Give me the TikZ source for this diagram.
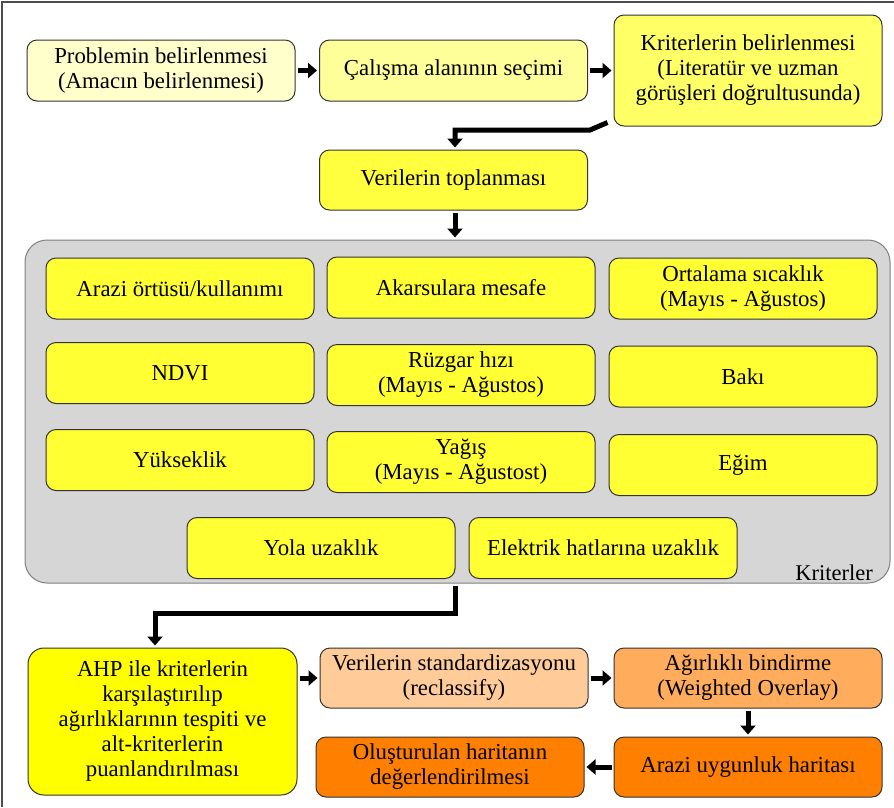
\documentclass[tikz,border=0pt]{standalone}
\usepackage{fontspec}
\setmainfont{Liberation Serif}
\newfontfamily\tnr{Liberation Serif}
\usetikzlibrary{arrows.meta,calc}
\definecolor{cA}{HTML}{FFFFCC}
\definecolor{cB}{HTML}{FFFF99}
\definecolor{cC}{HTML}{FFFF66}
\definecolor{cD}{HTML}{FFFF40}
\definecolor{cE}{HTML}{FFFF33}
\definecolor{cF}{HTML}{FFFF00}
\definecolor{cG}{HTML}{FFCC99}
\definecolor{cH}{HTML}{FFAD5C}
\definecolor{cI}{HTML}{FF8000}
\definecolor{grayfill}{HTML}{D6D6D6}
\begin{document}
\begin{tikzpicture}[x=1pt,y=-1pt,
  box/.style={draw=black!80, line width=1pt, rounded corners=10pt, minimum width=268pt,
    minimum height=61pt, inner sep=0pt, align=center, font=\tnr\fontsize{22.8}{25}\selectfont},
  arr/.style={line width=5pt, -{Triangle[length=9pt,width=15pt]}, shorten <=2pt, shorten >=2pt}]
\useasboundingbox (0,0) rectangle (894,807);
\draw[black!70, line width=1.5pt] (2,807) -- (2,2) -- (894,2);
% top
\node[box, fill=cA] (b1) at (161,70.5) {Problemin belirlenmesi\\(Amacın belirlenmesi)};
\node[box, fill=cB] (b2) at (453.5,70.5) {Çalışma alanının seçimi};
\node[box, fill=cC, minimum height=111pt] (b3) at (748,70.5) {Kriterlerin belirlenmesi\\(Literatür ve uzman\\görüşleri doğrultusunda)};
\node[box, fill=cD, minimum height=60pt] (b4) at (453.5,180) {Verilerin toplanması};
% container
\node[draw=black!50, line width=1pt, fill=grayfill, rounded corners=22pt, minimum width=865pt, minimum height=343pt, inner sep=0pt] (grp) at (457.5,411.5) {};
\node[anchor=base east, font=\tnr\fontsize{22.5}{24}\selectfont, inner sep=0pt] (lbl) at (873,580) {Kriterler};
% criteria
\node[box, fill=cE] (c1) at (180,288.5) {Arazi örtüsü/kullanımı};
\node[box, fill=cE] (c2) at (461,287.5) {Akarsulara mesafe};
\node[box, fill=cE] (c3) at (743,288.5) {Ortalama sıcaklık\\(Mayıs - Ağustos)};
\node[box, fill=cE] (c4) at (180,373) {NDVI};
\node[box, fill=cE] (c5) at (461,375) {Rüzgar hızı\\(Mayıs - Ağustos)};
\node[box, fill=cE] (c6) at (743,376.5) {Bakı};
\node[box, fill=cE] (c7) at (180,460) {Yükseklik};
\node[box, fill=cE] (c8) at (461,462) {Yağış\\(Mayıs - Ağustost)};
\node[box, fill=cE] (c9) at (743,465) {Eğim};
\node[box, fill=cE] (c10) at (321,548) {Yola uzaklık};
\node[box, fill=cE] (c11) at (603,548) {Elektrik hatlarına uzaklık};
% bottom
\node[box, fill=cF, minimum width=269pt, minimum height=147pt, rounded corners=16pt] (ahp) at (162.5,721.5) {AHP ile kriterlerin\\karşılaştırılıp\\ağırlıklarının tespiti ve\\alt-kriterlerin\\puanlandırılması};
\node[box, fill=cG, minimum height=60pt] (std) at (454,678) {Verilerin standardizasyonu\\(reclassify)};
\node[box, fill=cH, minimum height=60pt] (agr) at (748,678) {Ağırlıklı bindirme\\(Weighted Overlay)};
\node[box, fill=cI, minimum height=60pt] (ara) at (748,767) {Arazi uygunluk haritası};
\node[box, fill=cI, minimum height=60pt] (olu) at (450,767) {Oluşturulan haritanın\\değerlendirilmesi};
% connectors
\coordinate (k1) at (590,130);
\coordinate (k2) at (455,130);
\coordinate (k3) at (455,613);
\coordinate (k4) at (155,613);
\draw[arr] (b1.east) -- (b2.west);
\draw[arr] (b2.east) -- (b3.west |- b2.east);
\draw[arr, shorten <=0pt] ($(b3.south west)+(-6,-4)$) -- (k1) -- (k2) -- (k2 |- b4.north);
\draw[arr] (b4.south -| k2) -- (grp.north -| k2);
\draw[arr] (grp.south -| k3) -- (k3) -- (k4) -- (k4 |- ahp.north);
\draw[arr] (ahp.east |- std.west) -- (std.west);
\draw[arr] (std.east) -- (agr.west);
\draw[arr] (agr.south) -- (ara.north);
\draw[arr] (ara.west) -- (olu.east);
\end{tikzpicture}
\end{document}
